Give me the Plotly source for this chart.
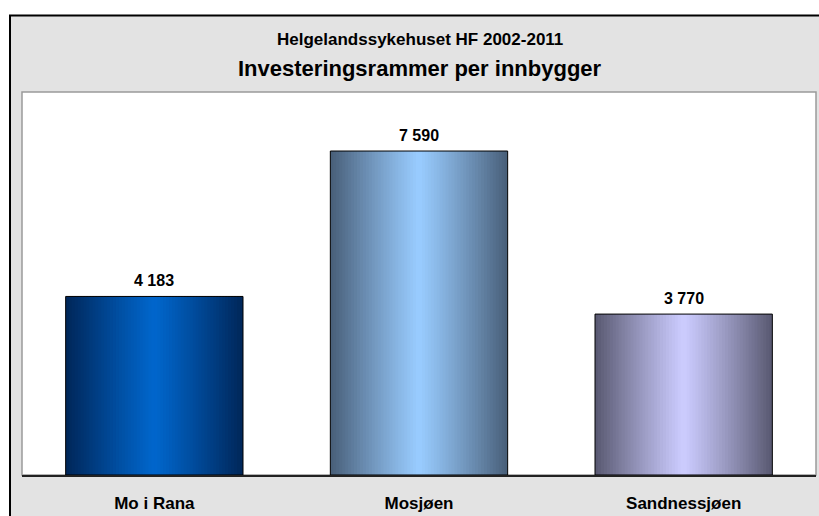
import plotly.graph_objects as go

categories = ["Mo i Rana", "Mosjøen", "Sandnessjøen"]
values = [4183, 7590, 3770]
light_colors = [(0, 102, 204), (153, 204, 255), (204, 204, 255)]
dark_colors = [(0, 38, 88), (72, 94, 120), (88, 88, 112)]
title_line1 = "Helgelandssykehuset HF 2002-2011"
title_line2 = "Investeringsrammer per innbygger"

FONT = "Liberation Sans, Arial, sans-serif"
BAR_W = 0.67
N = 60

fig = go.Figure()

def mix(a, b, t):
    return "rgb(%d,%d,%d)" % tuple(round(a[k] + (b[k] - a[k]) * t) for k in range(3))

strip = BAR_W / N
for i in range(N):
    c = (i + 0.5) / N
    t = min(1.0, abs(c - 0.5) * 2)
    t = t ** 1.1
    cols = [mix(light_colors[j], dark_colors[j], t) for j in range(len(categories))]
    fig.add_trace(go.Bar(
        x=categories, y=values,
        offset=-BAR_W / 2 + i * strip, width=strip * 1.6 if i < N - 1 else strip,
        marker=dict(color=cols, line=dict(width=0)),
        hoverinfo="skip", showlegend=False,
    ))

fig.add_trace(go.Bar(
    x=categories, y=values, width=BAR_W,
    marker=dict(color="rgba(0,0,0,0)", line=dict(color="black", width=1)),
    showlegend=False,
))

for cat, v in zip(categories, values):
    fig.add_annotation(
        x=cat, y=v, text="<b>%s</b>" % f"{v:,}".replace(",", " "),
        showarrow=False, yanchor="bottom", yshift=5,
        font=dict(family=FONT, size=16, color="black"),
    )

W, H = 819, 516
L, R, T, B = 22, W - 816, 92, H - 480
pw = W - L - R
ph = H - T - B

def px(x):
    return (x - L) / pw

def py(y):
    return (H - B - y) / ph

shapes = [
    dict(type="rect", xref="paper", yref="paper", x0=px(10), x1=px(860), y0=py(560), y1=py(14.5),
         fillcolor="#e3e3e3", line=dict(color="black", width=2), layer="below"),
    dict(type="rect", xref="paper", yref="paper", x0=0, x1=1, y0=0, y1=1,
         fillcolor="white", line=dict(color="#9a9a9a", width=1.5), layer="below"),
]

fig.add_annotation(xref="paper", yref="paper", x=px(420), y=py(39), text="<b>%s</b>" % title_line1,
                   showarrow=False, yanchor="middle",
                   font=dict(family=FONT, size=17, color="black"))
fig.add_annotation(xref="paper", yref="paper", x=px(420), y=py(68), text="<b>%s</b>" % title_line2,
                   showarrow=False, yanchor="middle",
                   font=dict(family=FONT, size=22, color="black"))

fig.update_layout(
    width=W, height=H,
    margin=dict(l=L, r=R, t=T, b=B, pad=0),
    paper_bgcolor="white", plot_bgcolor="white",
    barmode="overlay", bargap=1 - BAR_W,
    shapes=shapes,
    xaxis=dict(showline=True, linecolor="#222222", linewidth=1.5, showgrid=False,
               ticks="", tickfont=dict(family=FONT, size=17, color="black"),
               ticklabelstandoff=12, tickprefix="<b>", ticksuffix="</b>"),
    yaxis=dict(range=[0, 8973], visible=False, showgrid=False),
    font=dict(family=FONT),
)

fig.write_html(
    "out.html",
    config={"displayModeBar": False},
    post_script="document.body.style.margin='0';document.body.style.overflow='hidden';"
                "document.documentElement.style.overflow='hidden';",
)
